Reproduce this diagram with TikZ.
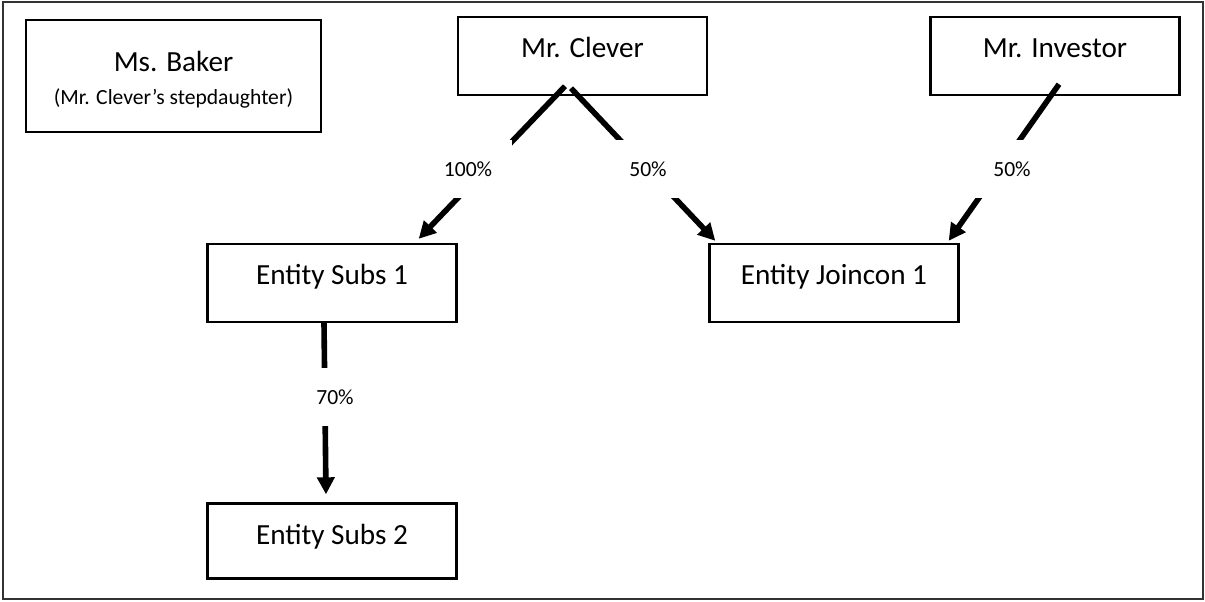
\documentclass[tikz,border=0pt]{standalone}
\usepackage{fontspec}
\setmainfont{Carlito}
\usetikzlibrary{positioning,arrows.meta}

\begin{document}
\begin{tikzpicture}[>={Triangle[length=8.5pt,width=8.5pt]}, on grid,
    box/.style={draw, line width=1.2pt, minimum width=124.5pt, minimum height=39pt,
      inner sep=0pt, font=\fontsize{14.6}{17.5}\selectfont},
    lifted/.style={text height=20pt, text depth=19pt},
    pct/.style={fill=white, minimum width=44pt, minimum height=29pt, inner sep=0pt,
      font=\fontsize{10.8}{13}\selectfont},
    link/.style={->, line width=2.8pt}]
    \useasboundingbox (0,0) rectangle (602.5pt,-300.5pt);
    \draw[line width=1pt, black!80] (1.5pt,-1pt) rectangle (601.5pt,-299.5pt);

    \node[box,lifted] (clever) at (291.25pt,-28pt) {Mr. Clever};
    \node[box,lifted] (investor) [right=236.25pt of clever] {Mr. Investor};
    \node[box, minimum width=147.5pt, minimum height=56pt, align=center] (baker)
      [below left=10pt and 204.5pt of clever]
      {\rule{0pt}{14pt}Ms. Baker\\[-1pt]{\fontsize{10.8}{13}\selectfont (Mr. Clever's stepdaughter)}};
    \node[box,lifted] (subs1) [below left=113.5pt and 125.25pt of clever] {Entity Subs 1};
    \node[box,lifted] (joincon) [below right=113.5pt and 125.75pt of clever] {Entity Joincon 1};
    \node[box, minimum height=37.5pt, text height=20.5pt, text depth=17pt] (subs2)
      [below=129pt of subs1] {Entity Subs 2};

    \path[link]
    ([xshift=-8.75pt,yshift=5pt]clever.south) edge ([xshift=-19.5pt,yshift=2pt]subs1.north east)
    ([xshift=-5.75pt,yshift=4pt]clever.south) edge ([xshift=3.5pt,yshift=1pt]joincon.north west)
    ([xshift=2pt,yshift=6pt]investor.south) edge ([xshift=-5.5pt,yshift=1pt]joincon.north east)
    ([xshift=-4pt]subs1.south) edge ([xshift=-3pt,yshift=4pt]subs2.north);

    \node[pct] (p100) [below left=56.5pt and 57.25pt of clever] {100\%};
    \node[pct] (p50c) [below right=56.5pt and 32.75pt of clever] {50\%};
    \node[pct] (p50i) [below left=56.5pt and 21.5pt of investor] {50\%};
    \node[pct] (p70) [below right=57pt and 1.5pt of subs1] {70\%};
  \end{tikzpicture}
\end{document}
